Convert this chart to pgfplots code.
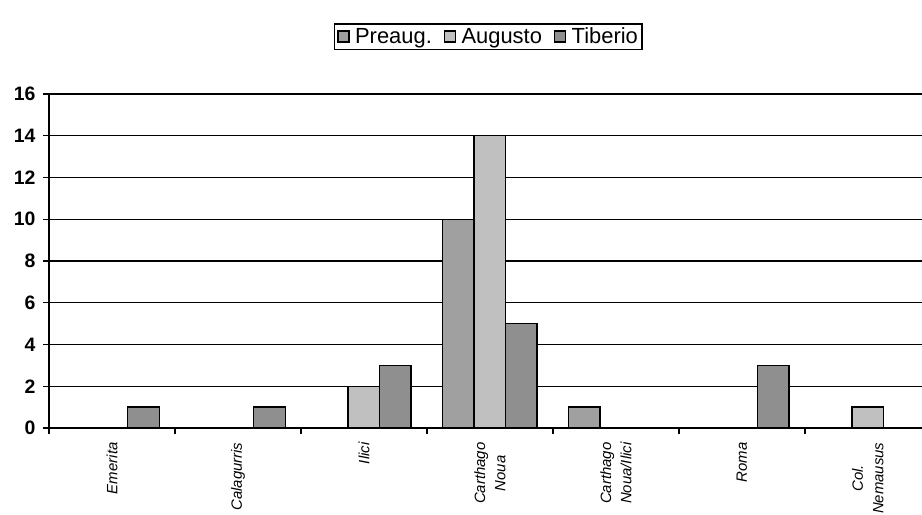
\documentclass[border=0pt]{standalone}
\usepackage{pgfplots}
\pgfplotsset{compat=1.18}
\usepackage{fontspec}
\setmainfont{Liberation Sans}
\definecolor{cpre}{HTML}{A0A0A0}
\definecolor{caug}{HTML}{C0C0C0}
\definecolor{ctib}{HTML}{8F8F8F}
\begin{document}
\begin{tikzpicture}
\begin{axis}[
  at={(0,0)}, anchor=south west,
  scale only axis, width=873bp, height=334bp,
  xmin=-0.5, xmax=6.43, ymin=0, ymax=16,
  ytick={0,2,...,16},
  xtick={-0.5,0.5,1.5,2.5,3.5,4.5,5.5},
  xticklabels={},
  extra x ticks={0,1,2,3,4,5,6},
  extra x tick labels={Emerita,Calagurris,Ilici,{Carthago\\Noua},{Carthago\\Noua/Ilici},Roma,{Col.\\Nemausus}},
  extra x tick style={major tick length=0pt,
    tick label style={rotate=90, anchor=east, align=center, xshift=-11bp,
      font=\itshape\fontsize{15}{20.5}\selectfont}},
  ymajorgrids, grid style={black, line width=1.4bp},
  axis x line*=bottom, axis y line*=left,
  axis line style={line width=1.4bp},
  tick align=outside, major tick length=6bp,
  tick style={black, line width=1.4bp},
  yticklabel style={font=\bfseries\fontsize{19.5}{21}\selectfont, xshift=-4bp},
  /pgf/number format/assume math mode=true,
  ybar, bar width=0.25,
  legend style={at={(0.503,1)}, anchor=south, yshift=44bp, legend columns=3,
    draw=black, line width=1.4bp, inner xsep=3bp, inner ysep=2bp,
    font=\fontsize{22}{25}\selectfont,
    nodes={inner xsep=1bp},
    /tikz/every even column/.append style={column sep=11bp}},
  legend image code/.code={\draw[#1, line width=1.4bp] (0bp,-5.5bp) rectangle (11bp,5.5bp);
     \path[draw=none,fill=none] (0bp,0bp) -- (16bp,0bp);},
]
\addplot[fill=cpre, draw=black, line width=1.4bp, bar shift=-0.25] coordinates {(3,10) (4,1)};
\addlegendentry{Preaug.}
\addplot[fill=caug, draw=black, line width=1.4bp, bar shift=0] coordinates {(2,2) (3,14) (6,1)};
\addlegendentry{Augusto}
\addplot[fill=ctib, draw=black, line width=1.4bp, bar shift=0.25] coordinates {(0,1) (1,1) (2,3) (3,5) (5,3)};
\addlegendentry{Tiberio}
\end{axis}
\pgfresetboundingbox
\path (-49bp,-87bp) rectangle (873bp,428bp);
\end{tikzpicture}
\end{document}
